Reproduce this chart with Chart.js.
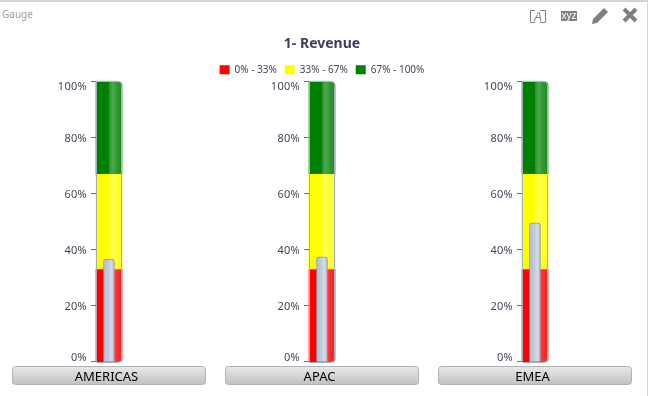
<!DOCTYPE html>
<html>
<head>
<meta charset="utf-8">
<title>Gauge</title>
<script src="https://cdn.jsdelivr.net/npm/chart.js@4"></script>
<style>
  html, body { margin: 0; background: #fff; overflow: hidden; }
  #panel { position: relative; width: 649px; height: 396px; }
  #gauge { position: absolute; left: 0; top: 0; }
  #frame { position: absolute; left: 0; top: 0; width: 648px; height: 396px; box-sizing: border-box;
           border-top: 2px solid #d4d4d4; border-right: 1px solid #d4d4d4; pointer-events: none; }
  #name { position: absolute; left: 2px; top: 7px; font: 10px "Noto Sans", sans-serif; color: #a09a90; }
  svg.icon { position: absolute; }
</style>
</head>
<body>
<div id="panel">
  <canvas id="gauge" width="649" height="396"></canvas>
  <div id="frame"></div>
  <div id="name">Gauge</div>
  <svg class="icon" style="left:529px;top:9px" width="18" height="15">
    <path d="M6 1.5H1.5V13.5H6M11 1.5H16.5V13.5H11" fill="none" stroke="#808080"/>
    <text x="9" y="12" text-anchor="middle" font-family="Liberation Sans" font-style="italic" font-size="12" fill="#808080">A</text>
  </svg>
  <svg class="icon" style="left:561px;top:11px" width="16" height="10">
    <rect width="16" height="10" fill="#808080"/>
    <text x="8" y="8" text-anchor="middle" font-family="Liberation Sans" font-size="10" fill="#fff">xyz</text>
  </svg>
  <svg class="icon" style="left:591px;top:7px" width="18" height="18">
    <path d="M13 1L17 5L6 16L1 17L2 12Z" fill="#808080"/>
  </svg>
  <svg class="icon" style="left:622px;top:7px" width="16" height="16">
    <path d="M2 2L14 14M14 2L2 14" stroke="#808080" stroke-width="4"/>
  </svg>
</div>
<script>
const regions = ['AMERICAS', 'APAC', 'EMEA']
const revenue = [36.7, 37.5, 49.7]
const bandRed = [33, 33, 33]
const bandYellow = [34, 34, 34]
const bandGreen = [33, 33, 33]
const bandLabels = ['0% - 33%', '33% - 67%', '67% - 100%']
const percentTicks = [0, 20, 40, 60, 80, 100]

const textColor = '#45455a'
const columnWidth = 26
const needleWidth = 11

function needleFill(context) {
  const chart = context.chart
  // the legend asks for this before the scales have pixels
  const mid = chart.scales.x ? chart.scales.x.getPixelForValue(context.dataIndex) : NaN
  if (!Number.isFinite(mid)) return '#bcc6d6'
  const grad = chart.ctx.createLinearGradient(mid - needleWidth / 2, 0, mid + needleWidth / 2, 0)
  grad.addColorStop(0, '#b4bfd0')
  grad.addColorStop(0.45, '#c2cbda')
  grad.addColorStop(0.7, '#d6dde8')
  grad.addColorStop(1, '#b0bbcc')
  return grad
}

// buttons behind the region names, one per category
const buttonsPlugin = {
  id: 'buttons',
  beforeDatasetsDraw(chart) {
    const { ctx, scales: { x, y } } = chart
    regions.forEach((name, i) => {
      const mid = x.getPixelForValue(i)
      const top = y.bottom + 4.5
      ctx.save()
      const grad = ctx.createLinearGradient(0, top, 0, top + 18)
      grad.addColorStop(0, '#e8e9ea')
      grad.addColorStop(1, '#bfc1c3')
      ctx.fillStyle = grad
      ctx.strokeStyle = '#b0b2b6'
      ctx.beginPath()
      ctx.roundRect(mid - 96.5, top, 193, 18, 3)
      ctx.fill()
      ctx.stroke()
      ctx.restore()
    })
  },
  afterDraw(chart) {
    const { ctx, scales: { x, y } } = chart
    ctx.save()
    ctx.font = '13px "Noto Sans"'
    ctx.fillStyle = '#000'
    ctx.textAlign = 'center'
    ctx.textBaseline = 'middle'
    regions.forEach((name, i) => ctx.fillText(name, x.getPixelForValue(i) - 2.5, y.bottom + 15))
    ctx.restore()
  }
}

// every gauge carries its own copy of the percent axis, plus the glass look
const gaugeAxisPlugin = {
  id: 'gaugeAxis',
  afterDatasetDraw(chart, args) {
    if (args.index !== 0) return
    const { ctx, scales: { x, y } } = chart
    regions.forEach((name, i) => {
      const left = x.getPixelForValue(i) - columnWidth / 2
      ctx.save()
      const shine = ctx.createLinearGradient(left, 0, left + columnWidth, 0)
      shine.addColorStop(0, 'rgba(255,255,255,0)')
      shine.addColorStop(0.5, 'rgba(255,255,255,0)')
      shine.addColorStop(0.52, 'rgba(255,255,255,0.18)')
      shine.addColorStop(0.64, 'rgba(255,255,255,0.3)')
      shine.addColorStop(0.85, 'rgba(255,255,255,0.16)')
      shine.addColorStop(1, 'rgba(255,255,255,0.12)')
      ctx.fillStyle = shine
      ctx.beginPath()
      ctx.roundRect(left, y.top, columnWidth, y.bottom - y.top, [0, 4, 4, 0])
      ctx.fill()
      ctx.strokeStyle = '#a3adbd'
      ctx.lineWidth = 1
      ctx.beginPath()
      ctx.roundRect(left + 0.5, y.top - 0.5, columnWidth - 1, y.bottom - y.top + 1, [0, 4, 4, 0])
      ctx.stroke()

      ctx.font = '11px "Noto Sans"'
      ctx.letterSpacing = '0.3px'
      ctx.fillStyle = textColor
      ctx.textAlign = 'right'
      ctx.textBaseline = 'middle'
      ctx.strokeStyle = '#70707c'
      percentTicks.forEach(v => {
        const py = Math.round(y.getPixelForValue(v)) - 0.5
        ctx.beginPath()
        ctx.moveTo(left - 5, py)
        ctx.lineTo(left, py)
        ctx.stroke()
        const nudge = v === 100 ? 5 : v === 0 ? -4 : 1
        ctx.fillText(v + '%', left - 9, py + nudge)
      })
      ctx.restore()
    })
  }
}

new Chart(document.getElementById('gauge'), {
  type: 'bar',
  data: {
    labels: regions,
    datasets: [
      { label: bandLabels[0], data: bandRed, backgroundColor: '#ff0000', stack: 'bands', order: 1, barThickness: columnWidth,
        borderSkipped: false, borderRadius: { bottomRight: 4 } },
      { label: bandLabels[1], data: bandYellow, backgroundColor: '#ffff00', stack: 'bands', order: 1, barThickness: columnWidth },
      { label: bandLabels[2], data: bandGreen, backgroundColor: '#008000', stack: 'bands', order: 1, barThickness: columnWidth,
        borderSkipped: false, borderRadius: { topRight: 4 } },
      { label: 'Revenue', data: revenue, backgroundColor: needleFill, borderColor: '#929cae', borderWidth: 1, stack: 'value', order: 0,
        barThickness: needleWidth, borderSkipped: false, borderRadius: { topLeft: 3, topRight: 3 } }
    ]
  },
  options: {
    responsive: false,
    animation: false,
    grouped: false,
    layout: { padding: { left: 2.5, right: 7.5, top: 36, bottom: 26 } },
    scales: {
      x: { stacked: true, grid: { display: false }, border: { display: false }, ticks: { display: false } },
      y: { stacked: true, display: false, min: 0, max: 100 }
    },
    plugins: {
      title: {
        display: true,
        text: '1- Revenue',
        color: '#3f3f5c',
        font: { family: 'Noto Sans', size: 14, weight: 'bold' },
        padding: { top: 0, bottom: 4 }
      },
      legend: {
        position: 'top',
        maxHeight: 25,
        labels: {
          filter: item => bandLabels.includes(item.text),
          boxWidth: 10,
          boxHeight: 9,
          padding: 8,
          color: textColor,
          font: { family: 'Noto Sans', size: 10 }
        }
      },
      tooltip: { enabled: false }
    }
  },
  plugins: [buttonsPlugin, gaugeAxisPlugin]
})
</script>
</body>
</html>
